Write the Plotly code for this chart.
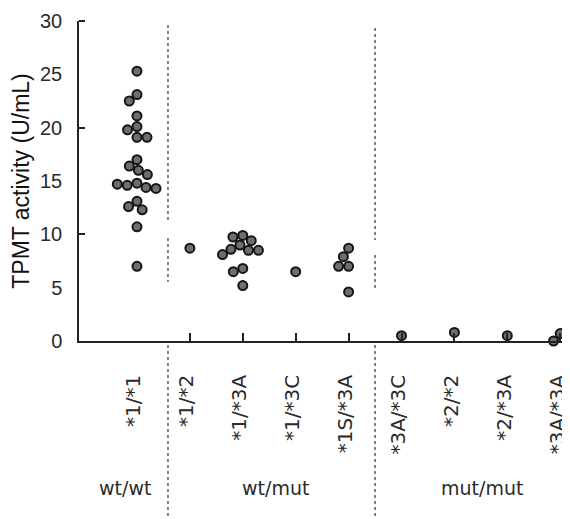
import math
import plotly.graph_objects as go

# ---------------- data ----------------
genotypes = ["*1/*1", "*1/*2", "*1/*3A", "*1/*3C", "*1S/*3A",
             "*3A/*3C", "*2/*2", "*2/*3A", "*3A/*3A"]

act_1_1 = [25.3, 23.1, 22.5, 21.1, 20.1, 19.8, 19.1, 19.1, 17.0, 16.4, 16.0,
           15.6, 14.8, 14.6, 14.4, 14.3, 14.7, 13.1, 12.6, 12.3, 10.7, 7.0]
act_1_2 = [8.7]
act_1_3A = [9.9, 9.75, 9.4, 9.0, 8.6, 8.5, 8.5, 8.1, 6.8, 6.5, 5.2]
act_1_3C = [6.5]
act_1S_3A = [8.7, 7.9, 7.0, 7.0, 4.6]
act_3A_3C = [0.5]
act_2_2 = [0.8]
act_2_3A = [0.5]
act_3A_3A = [0.7, 0.0, 0.8]

activity = [act_1_1, act_1_2, act_1_3A, act_1_3C, act_1S_3A,
            act_3A_3C, act_2_2, act_2_3A, act_3A_3A]

group_labels = ["wt/wt", "wt/mut", "mut/mut"]
y_tick_vals = [0, 5, 10, 15, 20, 25, 30]
y_major_ticks = [10, 20, 30]

# ---------------- layout geometry ----------------
# the page body has an 8px margin, so the figure starts at (8, 8) in the window
OFF = 8
WIN_W, WIN_H = 570, 519
W, H = WIN_W - OFF, WIN_H - OFF
ML, MR, MT = 79 - OFF, 0, 21 - OFF
plot_h = 320
MB = H - MT - plot_h
x_range = [-1.096, 8.185]
y_range = [0, 30]
plot_w = W - ML - MR
px_per_cat = plot_w / (x_range[1] - x_range[0])
px_per_unit = plot_h / (y_range[1] - y_range[0])


def swarm(vals, diam=10.0):
    """Simple beeswarm: x offsets (category units) so markers don't overlap."""
    placed, offs = [], []
    for v in vals:
        y = v * px_per_unit
        cands = [0.0]
        for (px, py) in placed:
            dy = y - py
            if abs(dy) < diam:
                dx = math.sqrt(diam ** 2 - dy ** 2)
                cands += [px - dx, px + dx]
        cands.sort(key=abs)
        chosen = 0.0
        for c in cands:
            if all((c - px) ** 2 + (y - py) ** 2 >= diam ** 2 - 1e-6 for px, py in placed):
                chosen = c
                break
        placed.append((chosen, y))
        offs.append(chosen / px_per_cat)
    return offs


xs, ys = [], []
for i, vals in enumerate(activity):
    for off, v in zip(swarm(vals), vals):
        xs.append(i + off)
        ys.append(v)

fig = go.Figure()
fig.add_trace(go.Scatter(
    x=xs, y=ys, mode="markers", cliponaxis=False, showlegend=False,
    marker=dict(size=9, color="#6e6e6e", line=dict(color="#151515", width=2)),
))

txt_font = dict(family="DejaVu Sans", size=20, color="#2a2a2a")

fig.update_layout(
    width=W, height=H,
    margin=dict(l=ML, r=MR, t=MT, b=MB, autoexpand=False),
    paper_bgcolor="white", plot_bgcolor="white",
    xaxis=dict(
        range=x_range, tickvals=list(range(len(genotypes))), ticktext=genotypes,
        tickangle=-90, ticks="outside", ticklen=0, tickcolor="white",
        showgrid=False, zeroline=False,
        showline=True, linecolor="#222", linewidth=1.5, automargin=False,
        tickfont=txt_font, ticklabelstandoff=24, ticklabelshift=-3,
        ticklabeloverflow="allow",
        minor=dict(tickmode="array", tickvals=list(range(1, len(genotypes))),
                   ticks="inside", ticklen=8, tickwidth=1.5, tickcolor="#222",
                   showgrid=False),
    ),
    yaxis=dict(
        range=y_range, tickvals=y_tick_vals, ticks="outside", ticklen=0,
        tickcolor="white", showgrid=False, zeroline=False,
        showline=True, linecolor="#222", linewidth=1.5, automargin=False,
        tickfont=dict(family="Liberation Sans", size=20, color="#2a2a2a"),
        ticklabelstandoff=11,
        title=dict(text="TPMT activity (U/mL)", standoff=8,
                   font=dict(family="Liberation Sans", size=23, color="#111")),
        minor=dict(tickmode="array", tickvals=y_major_ticks,
                   ticks="inside", ticklen=6, tickwidth=1.5, tickcolor="#222",
                   showgrid=False),
    ),
)

# dotted group dividers (window pixel rows -> paper coords)
def ypap(px):
    return (MT + plot_h - (px - OFF)) / plot_h

div_specs = [
    (0.586, [(25, 222), (238, 282), (345, 519)]),
    (4.50, [(28, 240), (255, 290), (345, 519)]),
]
for xd, segs in div_specs:
    for a, b in segs:
        fig.add_shape(type="line", xref="x", yref="paper", x0=xd, x1=xd,
                      y0=ypap(a), y1=ypap(b),
                      line=dict(color="#333", width=1.2, dash="dot"))

# group labels
group_x = [-0.23, 2.61, 6.52]
for gx, gl in zip(group_x, group_labels):
    fig.add_annotation(text=gl, x=gx, xref="x", y=ypap(488), yref="paper",
                       showarrow=False, xanchor="center", yanchor="middle",
                       font=dict(family="DejaVu Sans", size=19, color="#2a2a2a"))

fig.write_html("out.html")
